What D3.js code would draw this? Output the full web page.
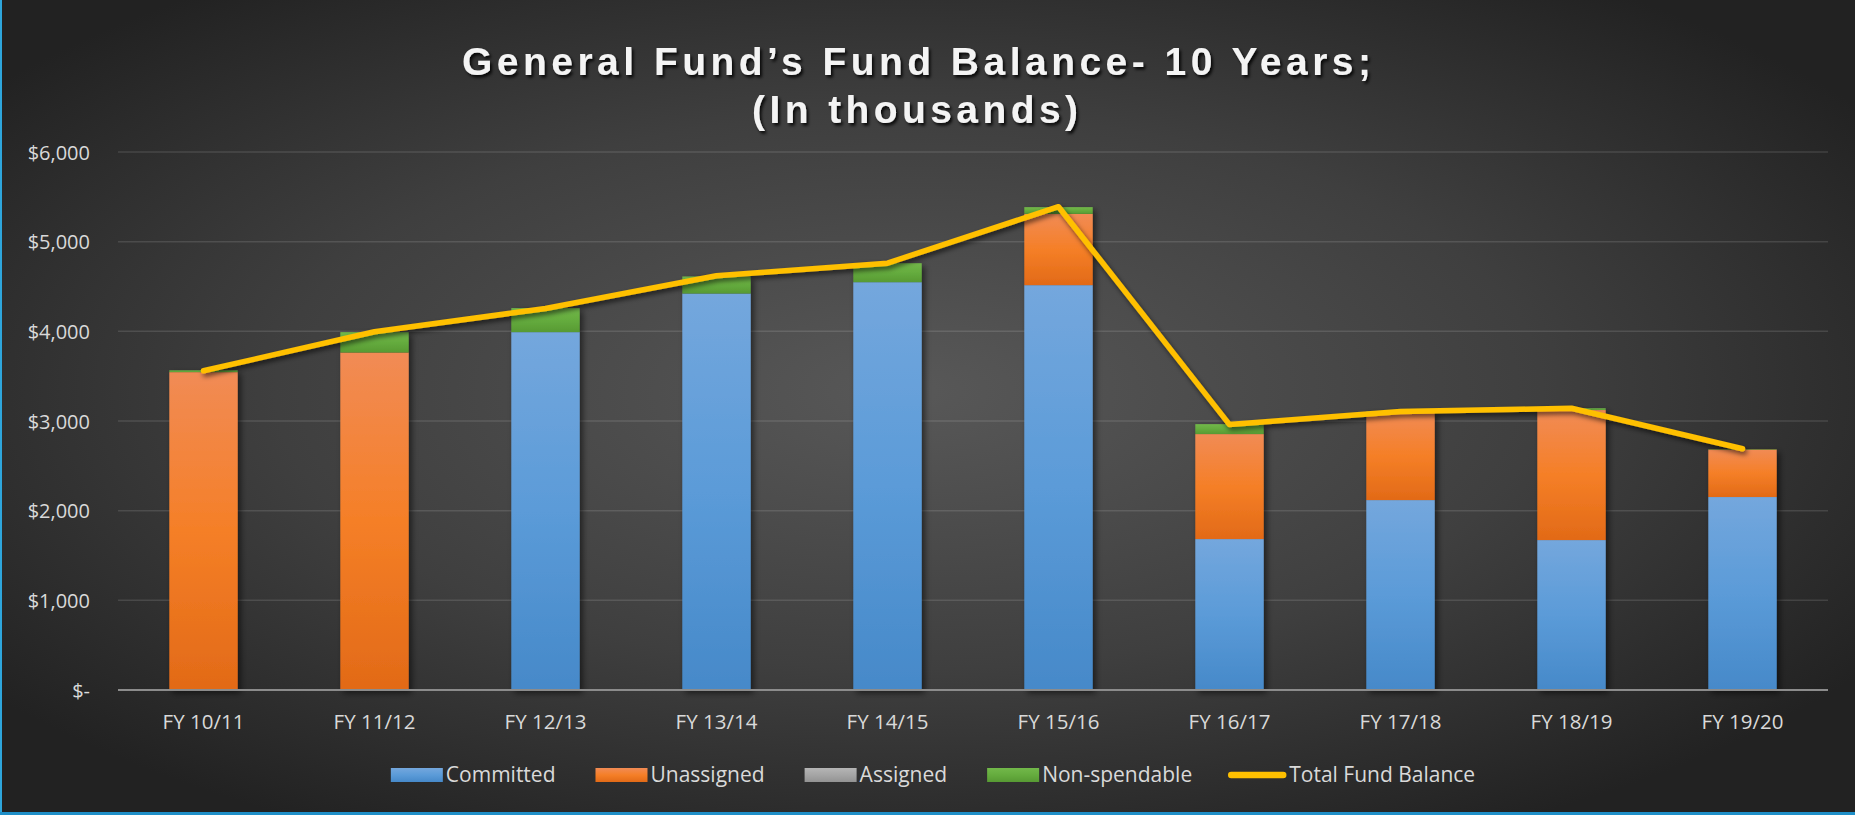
<!DOCTYPE html>
<html>
<head>
<meta charset="utf-8">
<script src="https://cdn.jsdelivr.net/npm/d3@7"></script>
<style>
  html, body { margin: 0; padding: 0; background: #262626; overflow: hidden; }
  svg { display: block; }
</style>
</head>
<body>
<svg id="chart" width="1855" height="815"></svg>
<script>
// ---------- data ----------
const categories = ["FY 10/11", "FY 11/12", "FY 12/13", "FY 13/14", "FY 14/15",
                    "FY 15/16", "FY 16/17", "FY 17/18", "FY 18/19", "FY 19/20"];
const committed    = [0, 0, 3991, 4422, 4548, 4515, 1683, 2118, 1672, 2152];
const unassigned   = [3545, 3764, 0, 0, 0, 795, 1171, 982, 1450, 530];
const assigned     = [0, 0, 0, 0, 0, 0, 0, 0, 0, 0];
const nonSpendable = [20, 227, 268, 190, 212, 75, 111, 5, 20, 5];
const totalBalance = [3560, 3995, 4255, 4620, 4760, 5390, 2960, 3105, 3142, 2690];
const yTicks = [0, 1000, 2000, 3000, 4000, 5000, 6000];
const titleLines = ["General Fund\u2019s Fund Balance- 10 Years;", "(In thousands)"];
const seriesNames = ["Committed", "Unassigned", "Assigned", "Non-spendable"];
const lineName = "Total Fund Balance";

// ---------- setup ----------
const W = 1855, H = 815;
const svg = d3.select("#chart");
const defs = svg.append("defs");

const bg = defs.append("radialGradient").attr("id", "bg")
  .attr("cx", "0.49").attr("cy", "0.48").attr("r", "0.62");
bg.append("stop").attr("offset", "0").attr("stop-color", "#585858");
bg.append("stop").attr("offset", "0.55").attr("stop-color", "#3f3f3f");
bg.append("stop").attr("offset", "1").attr("stop-color", "#222222");

function vgrad(id, stops) {
  const g = defs.append("linearGradient").attr("id", id)
    .attr("x1", 0).attr("y1", 0).attr("x2", 0).attr("y2", 1);
  stops.forEach(s => g.append("stop").attr("offset", s[0]).attr("stop-color", s[1]));
}
vgrad("gBlue",   [[0, "#74a7dd"], [0.5, "#5b9bd8"], [1, "#4689c9"]]);
vgrad("gOrange", [[0, "#f18b55"], [0.5, "#f57f27"], [1, "#e26a17"]]);
vgrad("gGray",   [[0, "#b5b5b5"], [0.5, "#a5a5a5"], [1, "#939393"]]);
vgrad("gGreen",  [[0, "#72b84a"], [0.5, "#65ac3e"], [1, "#579a33"]]);
const fills = ["url(#gBlue)", "url(#gOrange)", "url(#gGray)", "url(#gGreen)"];

const fShadow = defs.append("filter").attr("id", "shadow")
  .attr("x", "-20%").attr("y", "-20%").attr("width", "150%").attr("height", "150%");
fShadow.append("feDropShadow").attr("dx", 3).attr("dy", 3).attr("stdDeviation", 3)
  .attr("flood-color", "#000").attr("flood-opacity", 0.55);

const lShadow = defs.append("filter").attr("id", "lshadow")
  .attr("x", "-5%").attr("y", "-20%").attr("width", "110%").attr("height", "140%");
lShadow.append("feDropShadow").attr("dx", 2).attr("dy", 3).attr("stdDeviation", 2.5)
  .attr("flood-color", "#000").attr("flood-opacity", 0.6);

const tShadow = defs.append("filter").attr("id", "tshadow")
  .attr("x", "-5%").attr("y", "-30%").attr("width", "110%").attr("height", "160%");
tShadow.append("feDropShadow").attr("dx", 2).attr("dy", 2.5).attr("stdDeviation", 1.5)
  .attr("flood-color", "#000").attr("flood-opacity", 0.85);

// background
svg.append("rect").attr("width", W).attr("height", H).attr("fill", "url(#bg)");
// border accents
svg.append("rect").attr("x", 0).attr("y", 0).attr("width", 2).attr("height", H).attr("fill", "#2ea6dc");
svg.append("rect").attr("x", 0).attr("y", 812).attr("width", W).attr("height", 3).attr("fill", "#1f8fc8");

// ---------- scales ----------
const x = d3.scaleBand().domain(categories).range([118, 1828])
  .paddingInner(0.6).paddingOuter(0.3);
const y = d3.scaleLinear().domain([0, 6000]).range([690, 152]);

// gridlines
svg.append("g").selectAll("line").data(yTicks.filter(d => d > 0)).join("line")
  .attr("x1", 118).attr("x2", 1828)
  .attr("y1", d => y(d)).attr("y2", d => y(d))
  .attr("stroke", "#ffffff").attr("stroke-opacity", 0.12).attr("stroke-width", 1.5);

// y axis labels
const fmt = d => d === 0 ? "$-" : "$" + d3.format(",")(d);
const yAxis = d3.axisLeft(y).tickValues(yTicks).tickFormat(fmt).tickSize(0).tickPadding(0);
const yg = svg.append("g").attr("transform", "translate(90,0)").call(yAxis);
yg.select(".domain").remove();
yg.selectAll("text").attr("fill", "#d9d9d9")
  .style("font-family", "'Open Sans', sans-serif").style("font-size", "20px")
  .attr("dy", "0.35em");

// ---------- stacked bars ----------
const rows = categories.map((c, i) => ({
  cat: c, s0: committed[i], s1: unassigned[i], s2: assigned[i], s3: nonSpendable[i]
}));
const stacked = d3.stack().keys(["s0", "s1", "s2", "s3"])(rows);

const barsG = svg.append("g").attr("filter", "url(#shadow)");
stacked.forEach((layer, k) => {
  barsG.append("g").selectAll("rect").data(layer.filter(d => d[1] - d[0] > 0)).join("rect")
    .attr("x", d => x(d.data.cat))
    .attr("width", x.bandwidth())
    .attr("y", d => y(d[1]))
    .attr("height", d => y(d[0]) - y(d[1]))
    .attr("fill", fills[k]);
});

// x axis baseline
svg.append("line").attr("x1", 118).attr("x2", 1828).attr("y1", 690).attr("y2", 690)
  .attr("stroke", "#8c8c8c").attr("stroke-width", 2);

// x axis labels
const xAxis = d3.axisBottom(x).tickSize(0).tickPadding(0);
const xg = svg.append("g").attr("transform", "translate(0,729)").call(xAxis);
xg.select(".domain").remove();
xg.selectAll("text").attr("fill", "#d9d9d9").attr("dy", 0).attr("y", 0)
  .style("font-family", "'Open Sans', sans-serif").style("font-size", "20.5px");

// ---------- total line ----------
const line = d3.line()
  .x((d, i) => x(categories[i]) + x.bandwidth() / 2)
  .y(d => y(d));
svg.append("path").datum(totalBalance)
  .attr("d", line).attr("fill", "none")
  .attr("stroke", "#ffc000").attr("stroke-width", 5.5)
  .attr("stroke-linecap", "round").attr("stroke-linejoin", "round")
  .attr("filter", "url(#lshadow)");

// ---------- title ----------
const tg = svg.append("g").attr("filter", "url(#tshadow)");
[[titleLines[0], 916.5, 75, 909], [titleLines[1], 915, 123, 326]].forEach(([txt, cx, by, len]) => {
  tg.append("text").text(txt)
    .attr("x", cx).attr("y", by).attr("text-anchor", "middle")
    .attr("textLength", len).attr("lengthAdjust", "spacing")
    .attr("fill", "#f4f4f4")
    .style("font-family", "'Liberation Sans', Arial, sans-serif")
    .style("font-weight", "bold").style("font-size", "39px");
});

// ---------- legend ----------
const lg = svg.append("g");
const items = seriesNames.map((n, i) => ({ name: n, type: "rect", fill: fills[i] }))
  .concat([{ name: lineName, type: "line" }]);
let cursor = 0;
items.forEach((it, i) => {
  const g = lg.append("g");
  const sw = it.type === "rect" ? 52 : 58;
  if (it.type === "rect") {
    g.append("rect").attr("x", 0).attr("y", -7).attr("width", 52).attr("height", 14).attr("fill", it.fill);
  } else {
    g.append("line").attr("x1", 3).attr("x2", 55).attr("y1", 0).attr("y2", 0)
      .attr("stroke", "#ffc000").attr("stroke-width", 6.5).attr("stroke-linecap", "round");
  }
  const t = g.append("text").text(it.name).attr("x", sw + 3).attr("y", 0).attr("dy", "0.35em")
    .attr("fill", "#d9d9d9")
    .style("font-family", "'Open Sans', sans-serif").style("font-size", "21px");
  const tw = t.node().getComputedTextLength();
  g.attr("transform", `translate(${cursor},775)`);
  cursor += sw + 3 + tw + (i === 3 ? 36 : 40);
});
const legendWidth = cursor - 40;
lg.attr("transform", `translate(${933 - legendWidth / 2},0)`);
</script>
</body>
</html>
